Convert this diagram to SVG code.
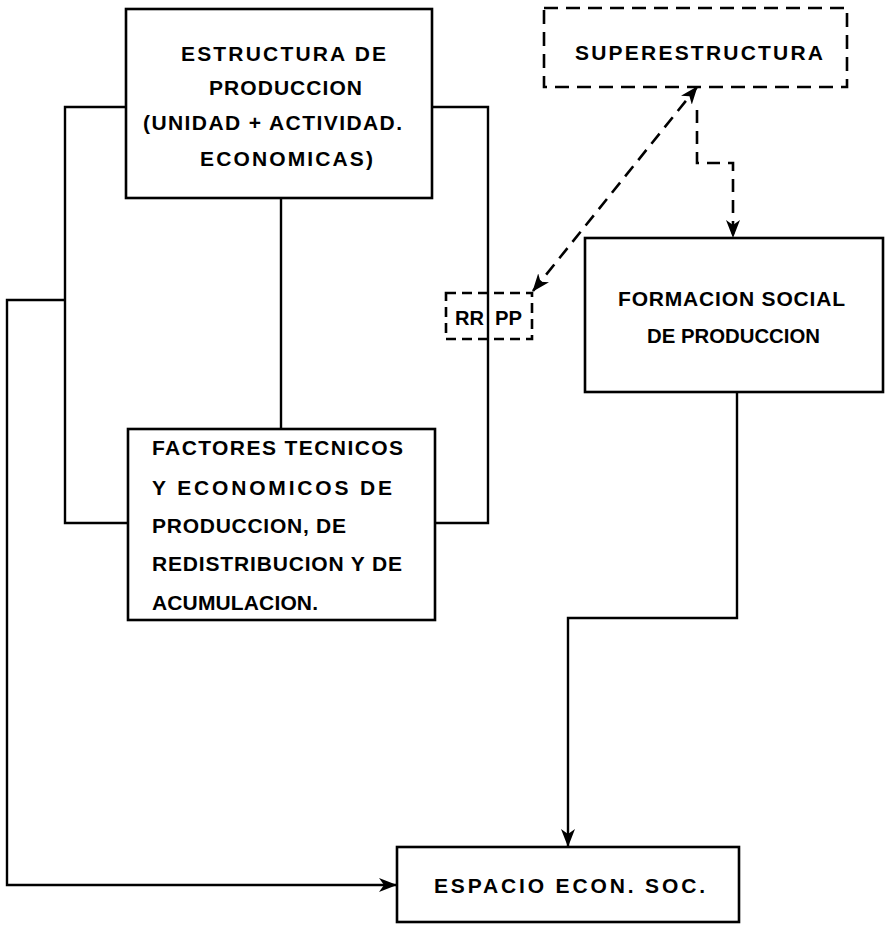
<svg xmlns="http://www.w3.org/2000/svg" width="885" height="926" viewBox="0 0 885 926">
<style>
  .box{fill:#fff;stroke:#000;stroke-width:2.6}
  .dbox{fill:none;stroke:#000;stroke-width:2.6;stroke-dasharray:14 8}
  .ln{fill:none;stroke:#000;stroke-width:2.4}
  .dln{fill:none;stroke:#000;stroke-width:2.6;stroke-dasharray:13 8}
  text{font-family:"Liberation Sans",Arial,sans-serif;font-weight:bold;font-size:21px;fill:#000}
</style>
<defs>
  <marker id="ah" viewBox="0 0 18 14" refX="17" refY="7" markerWidth="18" markerHeight="14" markerUnits="userSpaceOnUse" orient="auto-start-reverse">
    <path d="M0,0 L18,7 L0,14 L5,7 Z" fill="#000"/>
  </marker>
</defs>
<g id="connectors">
  <path class="ln" d="M281,198 V429"/>
  <path class="ln" d="M126,107 H65 V523 H128"/>
  <path class="ln" d="M432,107 H488 V523 H435"/>
  <path class="ln" d="M65,300 H7 V885 H396" marker-end="url(#ah)"/>
  <path class="ln" d="M737,392 V618 H568 V846" marker-end="url(#ah)"/>
  <path class="dln" d="M697,110 V163 H733 V237" marker-end="url(#ah)"/>
  <path class="dln" d="M533,291 L697,87" marker-start="url(#ah)" marker-end="url(#ah)"/>
</g>
<g id="estructura">
  <rect class="box" x="126" y="9" width="306" height="189"/>
  <text x="181" y="61" font-size="20" textLength="205" lengthAdjust="spacing">ESTRUCTURA DE</text>
  <text x="209" y="95" font-size="20" textLength="153" lengthAdjust="spacing">PRODUCCION</text>
  <text x="143" y="130" font-size="20" textLength="259" lengthAdjust="spacing">(UNIDAD + ACTIVIDAD.</text>
  <text x="200" y="166" font-size="20" textLength="173" lengthAdjust="spacing">ECONOMICAS)</text>
</g>
<g id="factores">
  <rect class="box" x="128" y="429" width="307" height="191"/>
  <text x="152" y="455" textLength="251" lengthAdjust="spacing">FACTORES TECNICOS</text>
  <text x="152" y="495" textLength="240" lengthAdjust="spacing">Y ECONOMICOS  DE</text>
  <text x="152" y="533" textLength="194" lengthAdjust="spacing">PRODUCCION, DE</text>
  <text x="152" y="571" textLength="250" lengthAdjust="spacing">REDISTRIBUCION Y DE</text>
  <text x="152" y="610" textLength="166" lengthAdjust="spacing">ACUMULACION.</text>
</g>
<g id="rrpp">
  <rect class="dbox" x="446" y="293" width="86" height="46" style="stroke-dasharray:10 6"/>
  <text x="455" y="325" font-size="20" textLength="29" lengthAdjust="spacingAndGlyphs">RR</text>
  <text x="495" y="325" font-size="20" textLength="27" lengthAdjust="spacingAndGlyphs">PP</text>
</g>
<g id="superestructura">
  <rect class="dbox" x="544" y="8" width="303" height="79"/>
  <text x="575" y="60" textLength="248" lengthAdjust="spacing">SUPERESTRUCTURA</text>
</g>
<g id="formacion">
  <rect class="box" x="585" y="238" width="298" height="154"/>
  <text x="618" y="306" textLength="227" lengthAdjust="spacing">FORMACION SOCIAL</text>
  <text x="647" y="343" textLength="173" lengthAdjust="spacingAndGlyphs">DE PRODUCCION</text>
</g>
<g id="espacio">
  <rect class="box" x="397" y="847" width="342" height="75"/>
  <text x="434" y="893" textLength="271" lengthAdjust="spacing">ESPACIO  ECON. SOC.</text>
</g>
</svg>
